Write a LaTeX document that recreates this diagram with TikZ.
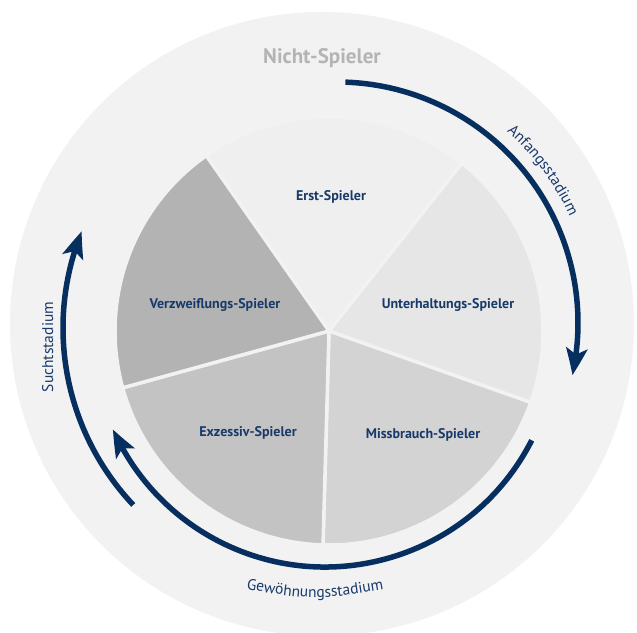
\documentclass[tikz,border=0pt]{standalone}
\usepackage{fontspec}
\setmainfont{PT Sans}
\usetikzlibrary{arrows.meta,bending,decorations.text}
\definecolor{ring}{HTML}{F2F2F2}
\definecolor{erst}{HTML}{EFEFEF}
\definecolor{unter}{HTML}{E6E6E6}
\definecolor{miss}{HTML}{D3D3D3}
\definecolor{exz}{HTML}{C3C3C3}
\definecolor{verz}{HTML}{B3B3B3}
\definecolor{navy}{HTML}{062F5F}
\definecolor{tnavy}{HTML}{183A6B}
\definecolor{nicht}{HTML}{B4B4B4}
\tikzset{
  sector/.style={draw=ring, line width=3.5pt, line join=round},
  stage/.style={draw=navy, line width=5.5pt,
    -{Stealth[length=27pt,width=21pt,inset=6pt,bend]}},
  player/.style={font=\fontsize{14}{16}\selectfont\bfseries, text=tnavy, anchor=base, inner sep=0pt},
  stagelabel/.style={font=\fontsize{15.5}{18}\selectfont, text=tnavy, anchor=base, inner sep=0pt}
}
\begin{document}
\begin{tikzpicture}[x=1pt,y=1pt]
\useasboundingbox (0,0) rectangle (637,632);
\clip (0,0) rectangle (637,632);
\fill[white] (0,0) rectangle (637,632);
% centres
\coordinate (O) at (322,308);
\coordinate (P) at (329,301);
\coordinate (C1) at (337,309);
\coordinate (C2) at (325,297);
\coordinate (C3) at (321,304);
% outer ring
\fill[ring] (O) circle[radius=312];
% sectors
\def\R{214}
\filldraw[sector, fill=erst]  (P) -- ++(51.6:\R) arc[start angle=51.6, end angle=125, radius=\R] -- cycle;
\filldraw[sector, fill=unter] (P) -- ++(-19.5:\R) arc[start angle=-19.5, end angle=51.6, radius=\R] -- cycle;
\filldraw[sector, fill=miss]  (P) -- ++(-91.6:\R) arc[start angle=-91.6, end angle=-19.5, radius=\R] -- cycle;
\filldraw[sector, fill=exz]   (P) -- ++(195.4:\R) arc[start angle=195.4, end angle=268.4, radius=\R] -- cycle;
\filldraw[sector, fill=verz]  (P) -- ++(125:\R) arc[start angle=125, end angle=195.4, radius=\R] -- cycle;
% labels of sectors
\node[player] (erstL)  at (331,431) {Erst-Spieler};
\node[player] (verzL)  at (215,323) {Verzweiflungs-Spieler};
\node[player] (unterL) at (448,323) {Unterhaltungs-Spieler};
\node[player] (exzL)   at (248,195) {Exzessiv-Spieler};
\node[player] (missL)  at (423,193) {Missbrauch-Spieler};
\node[font=\fontsize{21}{24}\selectfont\bfseries, text=nicht, anchor=base, inner sep=0pt] (nichtL) at (322,568) {Nicht-Spieler};
% stage arrows
\draw[stage] (C1) ++(88:241) arc[start angle=88, end angle=-12.5, radius=241];
\draw[stage] (C2) ++(-27:232) arc[start angle=-27, end angle=-156, radius=232];
\draw[stage] (C3) ++(223.3:258) arc[start angle=223.3, end angle=158, radius=258];
% stage labels
\path[decorate, decoration={text along path, text align=center,
   text={|\fontsize{15.5}{18}\selectfont\color{tnavy}|Anfangsstadium}}]
   (C1) ++(58:256) arc[start angle=58, end angle=15, radius=256];
\path[decorate, decoration={text along path, text align=center,
   text={|\fontsize{15.5}{18}\selectfont\color{tnavy}|Gewöhnungsstadium}}]
   (232,45) .. controls (315,31) .. (398,45);
\node[stagelabel, rotate=90] (suchtL) at (53,285) {Suchtstadium};
\end{tikzpicture}
\end{document}
